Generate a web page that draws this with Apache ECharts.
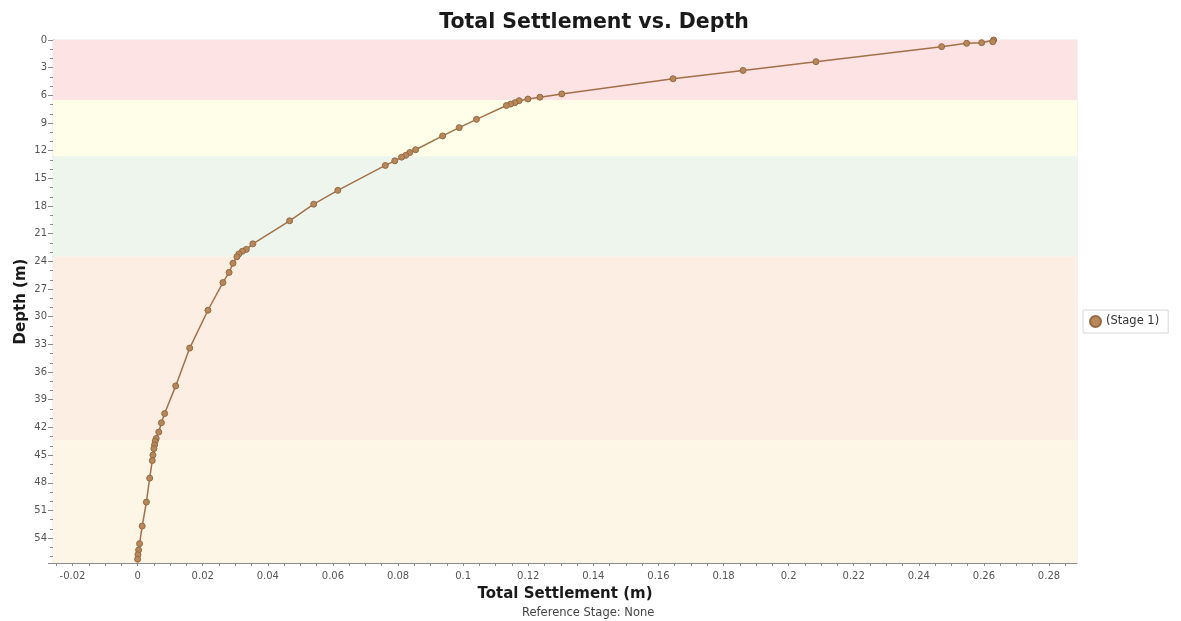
<!DOCTYPE html>
<html>
<head>
<meta charset="utf-8">
<title>Total Settlement vs. Depth</title>
<script src="https://cdn.jsdelivr.net/npm/echarts@6/dist/echarts.min.js"></script>
<style>
  html, body { margin: 0; padding: 0; background: #ffffff; }
  #chart { width: 1181px; height: 621px; }
</style>
</head>
<body>
<div id="chart"></div>
<script>
// Stage 1 settlement profile: settlement (m) at each depth (m)
const settlement = [
  0.2630, 0.2627, 0.2593, 0.2547, 0.2470, 0.2084, 0.1860, 0.1645, 0.1303, 0.1236,
  0.1199, 0.1172, 0.1159, 0.1146, 0.1133, 0.1041, 0.0988, 0.0937, 0.0854, 0.0836,
  0.0824, 0.0811, 0.0790, 0.0761, 0.0615, 0.0541, 0.0467, 0.0354, 0.0334, 0.0322,
  0.0311, 0.0305, 0.0293, 0.0281, 0.0262, 0.0216, 0.0160, 0.0117, 0.0083, 0.0073,
  0.0065, 0.0057, 0.0054, 0.0052, 0.0050, 0.0047, 0.0045, 0.0037, 0.0027, 0.0014,
  0.0006, 0.0003, 0.0001, 0.0000
];
const depth = [
  0.00, 0.18, 0.29, 0.36, 0.72, 2.35, 3.30, 4.20, 5.85, 6.20,
  6.40, 6.58, 6.80, 6.95, 7.10, 8.60, 9.50, 10.40, 11.90, 12.20,
  12.50, 12.70, 13.10, 13.60, 16.30, 17.80, 19.60, 22.10, 22.70, 22.90,
  23.20, 23.50, 24.20, 25.20, 26.30, 29.30, 33.40, 37.50, 40.50, 41.50,
  42.50, 43.20, 43.50, 43.90, 44.30, 45.00, 45.60, 47.50, 50.10, 52.70,
  54.60, 55.30, 55.80, 56.30
];

// Soil layer bands: top and bottom depth (m) and fill colour
const layerTop    = [0.0, 6.5, 12.6, 23.5, 43.4];
const layerBottom = [6.5, 12.6, 23.5, 43.4, 56.7];
const layerColors = ['#fde3e4', '#fefee9', '#eef5ec', '#fdeee3', '#fdf5e6'];

// Axis ranges and tick labels
const xMin = -0.026, xMax = 0.2886;
const xTickLabels = [-0.02, 0, 0.02, 0.04, 0.06, 0.08, 0.1, 0.12, 0.14, 0.16, 0.18, 0.2, 0.22, 0.24, 0.26, 0.28];
const xMinorTicks = [];
for (let v = -25; v <= 285; v += 5) xMinorTicks.push(v / 1000);
const yMin = 0, yMax = 56.7, yInterval = 3;

const points = settlement.map((s, i) => [s, depth[i]]);
const bands = layerTop.map((t, i) => [
  { yAxis: t, itemStyle: { color: layerColors[i] } },
  { yAxis: layerBottom[i] }
]);

const font = 'DejaVu Sans';
const axisGray = '#8c8c8c';
const labelGray = '#555555';

const chart = echarts.init(document.getElementById('chart'), null, { renderer: 'canvas' });
chart.setOption({
  animation: false,
  backgroundColor: '#ffffff',
  title: {
    text: 'Total Settlement vs. Depth',
    left: 589, top: 7, textAlign: 'center',
    textStyle: { fontFamily: font, fontSize: 20.5, fontWeight: 'bold', color: '#1a1a1a' }
  },
  graphic: [{
    type: 'text',
    left: 522, top: 607,
    style: { text: 'Reference Stage: None', fontFamily: font, fontSize: 11.5, fill: '#444444' }
  }],
  legend: {
    left: 1083, top: 310,
    orient: 'vertical',
    icon: 'circle',
    itemWidth: 11, itemHeight: 11,
    padding: [5, 9, 5, 6],
    borderColor: '#d6d6d6', borderWidth: 1,
    backgroundColor: '#ffffff',
    textStyle: { fontFamily: font, fontSize: 11.5, color: '#333333' },
    data: ['(Stage 1)']
  },
  grid: {
    left: 53, right: 104, top: 40, bottom: 58,
    show: true, borderColor: '#e6e6e6', borderWidth: 1, backgroundColor: '#ffffff'
  },
  xAxis: [{
    type: 'value', min: xMin, max: xMax,
    name: 'Total Settlement (m)', nameLocation: 'middle', nameGap: 24,
    nameTextStyle: { fontFamily: font, fontSize: 15, fontWeight: 'bold', color: '#1a1a1a' },
    axisLine: { show: true, onZero: false, lineStyle: { color: axisGray } },
    axisTick: { show: true, customValues: xMinorTicks, length: 3, lineStyle: { color: axisGray } },
    axisLabel: { customValues: xTickLabels, fontFamily: font, fontSize: 10, color: labelGray, margin: 8,
      formatter: v => String(+v.toFixed(2)) },
    splitLine: { show: false }
  }, {
    type: 'value', min: xMin, max: xMax, position: 'bottom',
    axisLine: { show: false },
    axisTick: { show: true, customValues: xTickLabels, length: 5, lineStyle: { color: axisGray } },
    axisLabel: { show: false },
    splitLine: { show: false }
  }],
  yAxis: {
    type: 'value', inverse: true, min: yMin, max: yMax, interval: yInterval,
    name: 'Depth (m)', nameLocation: 'middle', nameGap: 24, nameMoveOverlap: false,
    nameTextStyle: { fontFamily: font, fontSize: 15, fontWeight: 'bold', color: '#1a1a1a' },
    axisLine: { show: true, onZero: false, lineStyle: { color: axisGray } },
    axisTick: { show: true, length: 5, lineStyle: { color: axisGray } },
    minorTick: { show: true, splitNumber: 3, length: 3, lineStyle: { color: axisGray } },
    axisLabel: { fontFamily: font, fontSize: 10, color: labelGray, margin: 6,
      showMaxLabel: false },
    splitLine: { show: false }
  },
  series: [{
    name: '(Stage 1)',
    type: 'line',
    xAxisIndex: 0,
    data: points,
    symbol: 'circle',
    symbolSize: 6,
    clip: true,
    itemStyle: { color: '#b8875a', borderColor: '#946a44', borderWidth: 1 },
    lineStyle: { color: '#a3704a', width: 1.5 },
    markArea: { silent: true, data: bands },
    z: 3
  }]
});
</script>
</body>
</html>
